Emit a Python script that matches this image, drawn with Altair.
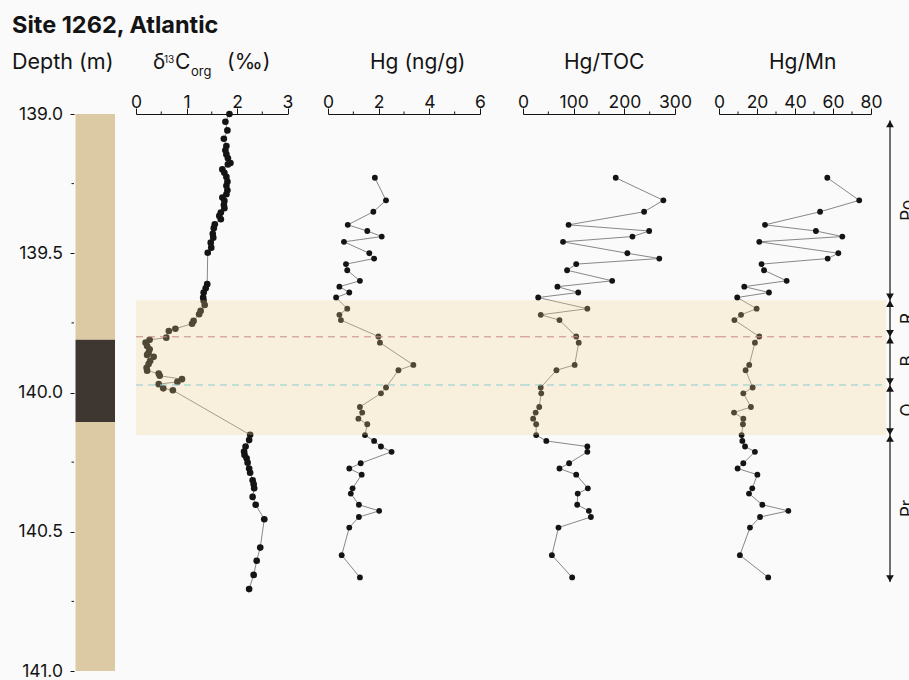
import altair as alt
import pandas as pd

FONT = "Inter"
INK = "#141414"
LINE = "#6a6a6a"
BAND = "#f5d68c"

# ---------------- data ----------------
DEPTH_DOMAIN = [139.0, 141.0]
PLOT_H = 557

# bulk organic carbon isotopes (‰)
d13c_depth = [139.000, 139.028, 139.059, 139.089, 139.115, 139.130, 139.145, 139.159, 139.176, 139.181,
              139.199, 139.211, 139.226, 139.243, 139.258, 139.274, 139.288, 139.300, 139.312, 139.327,
              139.338, 139.354, 139.366, 139.378, 139.396, 139.410, 139.430, 139.444, 139.462, 139.480,
              139.498, 139.611, 139.626, 139.641, 139.659, 139.671, 139.686, 139.707, 139.719, 139.743,
              139.753, 139.771, 139.779, 139.803, 139.811, 139.821, 139.833, 139.845, 139.857, 139.865,
              139.872, 139.887, 139.898, 139.911, 139.922, 139.932, 139.940, 139.952, 139.962, 139.970,
              139.985, 139.992, 140.152, 140.171, 140.194, 140.212, 140.224, 140.236, 140.252, 140.273,
              140.288, 140.315, 140.329, 140.344, 140.375, 140.403, 140.455, 140.557, 140.604, 140.655,
              140.706]
d13c_value = [1.85, 1.77, 1.81, 1.74, 1.79, 1.77, 1.79, 1.82, 1.87, 1.82,
              1.71, 1.75, 1.79, 1.81, 1.79, 1.81, 1.79, 1.71, 1.75, 1.74,
              1.75, 1.68, 1.65, 1.68, 1.56, 1.54, 1.52, 1.53, 1.48, 1.49,
              1.42, 1.41, 1.38, 1.34, 1.33, 1.34, 1.36, 1.28, 1.25, 1.14,
              1.11, 0.78, 0.65, 0.60, 0.27, 0.19, 0.22, 0.27, 0.25, 0.22,
              0.35, 0.28, 0.25, 0.21, 0.22, 0.45, 0.47, 0.91, 0.82, 0.45,
              0.54, 0.73, 2.26, 2.24, 2.17, 2.14, 2.15, 2.19, 2.21, 2.24,
              2.26, 2.31, 2.33, 2.34, 2.31, 2.37, 2.54, 2.46, 2.39, 2.33,
              2.24]

# mercury samples (shared depths)
hg_depth = [139.229, 139.310, 139.351, 139.398, 139.420, 139.440, 139.459, 139.500, 139.519, 139.539,
            139.561, 139.599, 139.620, 139.641, 139.659, 139.699, 139.721, 139.740, 139.799, 139.821,
            139.901, 139.920, 139.982, 140.003, 140.052, 140.072, 140.094, 140.114, 140.153, 140.174,
            140.194, 140.213, 140.254, 140.273, 140.295, 140.344, 140.363, 140.403, 140.425, 140.447,
            140.485, 140.584, 140.664]
hg_value = [1.85, 2.29, 1.79, 0.78, 1.55, 2.12, 0.63, 1.63, 1.82, 0.71,
            0.76, 1.26, 0.45, 0.84, 0.32, 0.76, 0.45, 0.51, 1.99, 2.05,
            3.37, 2.78, 2.29, 2.09, 1.26, 1.35, 1.20, 1.55, 1.46, 1.82,
            2.09, 2.51, 1.29, 0.84, 1.33, 0.97, 0.90, 1.22, 2.02, 1.22,
            0.84, 0.54, 1.26]
hg_toc = [183, 277, 239, 90, 249, 216, 79, 206, 269, 105,
          87, 176, 68, 109, 30, 127, 35, 72, 105, 110,
          102, 66, 35, 36, 32, 25, 20, 26, 26, 46,
          127, 127, 91, 72, 105, 128, 108, 107, 130, 134,
          70, 57, 97]
hg_mn = [57.0, 73.8, 53.2, 24.2, 51.0, 64.9, 21.2, 62.8, 57.2, 22.4,
         23.7, 35.6, 13.3, 26.3, 9.6, 19.8, 11.6, 8.1, 21.2, 18.9,
         15.9, 14.0, 17.7, 12.8, 16.8, 7.9, 12.8, 12.6, 11.9, 12.3,
         13.7, 18.9, 12.8, 9.8, 20.2, 17.5, 15.8, 22.8, 36.5, 21.6,
         16.3, 11.0, 25.9]

# core lithology column
lith_top = [139.0, 139.811, 140.106]
lith_base = [139.811, 140.106, 141.0]
lith_color = ["#dccaa4", "#3e3631", "#dccaa4"]

# highlighted interval and marker horizons
band_top, band_base = 139.669, 140.153
marker_depth = [139.800, 139.973]
marker_color = ["#c98a82", "#8ccdd6"]

# phase arrows on the right
phase_bounds = [139.023, 139.669, 139.800, 139.973, 140.153, 140.680]
phase_labels = ["Po", "R", "B", "O", "Pr"]

# ---------------- helpers ----------------
depth_scale = alt.Scale(domain=DEPTH_DOMAIN, reverse=True, nice=False, zero=False)


def ydepth(field="depth", axis=None):
    return alt.Y(f"{field}:Q", scale=depth_scale, axis=axis)


def text(label, x, y, size, weight="normal", align="left", baseline="alphabetic",
         angle=0, clip=False):
    return alt.Chart(pd.DataFrame({"label": [label]})).mark_text(
        font=FONT, fontSize=size, fontWeight=weight, align=align, baseline=baseline,
        angle=angle, clip=clip, color=INK,
    ).encode(text="label:N", x=alt.value(x), y=alt.value(y))


def horizon_layers(width):
    band = alt.Chart(pd.DataFrame({"top": [band_top], "base": [band_base]})).mark_rect(
        color=BAND, opacity=0.27
    ).encode(x=alt.value(0), x2=alt.value(width), y=ydepth("top"), y2="base:Q")
    dashes = alt.Chart(pd.DataFrame({"depth": marker_depth, "c": marker_color})).mark_rule(
        strokeDash=[7, 5], strokeWidth=1
    ).encode(y=ydepth(), x=alt.value(0), x2=alt.value(width),
             color=alt.Color("c:N", scale=None))
    return [band, dashes]


def profile(depths, values, domain, majors, minors, rng, width, point_size, headers,
            extra=(), band_width=None):
    axis = alt.Axis(orient="top", values=majors, format="d", title=None, grid=False,
                    tickSize=6, tickWidth=1, tickColor=INK, domainColor=INK, domainWidth=1,
                    labelFontSize=17.5, labelFont=FONT, labelColor=INK,
                    labelBaseline="alphabetic", labelPadding=0.5,
                    labelFlush=False, labelOverlap=False)
    xenc = alt.X("v:Q", scale=alt.Scale(domain=domain, range=[0, rng], nice=False, zero=False),
                 axis=axis)
    df = pd.DataFrame({"depth": depths, "v": values})
    line = alt.Chart(df).mark_line(color=LINE, strokeWidth=0.8).encode(
        x=xenc, y=ydepth(), order="depth:Q")
    pts = alt.Chart(df).mark_circle(size=point_size, color=INK, opacity=1).encode(
        x=xenc, y=ydepth())
    minor = alt.Chart(pd.DataFrame({"v": minors})).mark_rule(color=INK, strokeWidth=1).encode(
        x=xenc, y=alt.value(-2.5), y2=alt.value(0))
    layers = [line, pts] + horizon_layers(band_width or width) + [minor] + list(headers) + list(extra)
    return alt.layer(*layers).properties(width=width, height=PLOT_H)


# ---------------- core column with depth axis ----------------
core_axis = alt.Axis(orient="left", values=[139.0, 139.5, 140.0, 140.5, 141.0], format=".1f",
                     title=None, grid=False, domain=False, tickSize=4, tickColor=INK,
                     labelFontSize=17.5, labelFont=FONT, labelColor=INK, labelPadding=7.5,
                     labelFlush=False, labelOverlap=False)
lith = alt.Chart(pd.DataFrame({"top": lith_top, "base": lith_base, "c": lith_color,
                               "x0": [0, 0, 0], "x1": [1, 1, 1]})).mark_rect().encode(
    x=alt.X("x0:Q", scale=alt.Scale(domain=[0, 1], range=[1.5, 41]), axis=None),
    x2="x1:Q",
    y=ydepth("top", core_axis), y2="base:Q",
    color=alt.Color("c:N", scale=None),
)
core_minor = alt.Chart(pd.DataFrame({"depth": [139.25, 139.75, 140.25, 140.75]})).mark_rule(
    color=INK, strokeWidth=1
).encode(y=ydepth("depth", core_axis), x=alt.value(-2.5), x2=alt.value(0))
core = alt.layer(
    lith, core_minor,
    text("Site 1262, Atlantic", -62, -81, 23.5, weight="bold"),
    text("Depth (m)", -62, -45, 21.5),
).properties(width=62, height=PLOT_H)

# ---------------- δ13C panel ----------------
d13c = profile(
    d13c_depth, d13c_value, [0, 3], [0, 1, 2, 3], [0.5, 1.5, 2.5], 151.5, 192, 44,
    headers=[
        text("δ", 17, -45, 21),
        text("13", 28, -51, 10),
        text("C", 39, -45, 21),
        text("org", 55, -38, 13),
        text("(‰)", 91, -45, 21),
    ],
)

# ---------------- Hg panel ----------------
hg = profile(
    hg_depth, hg_value, [0, 6], [0, 2, 4, 6], [1, 3, 5], 152, 195, 34,
    headers=[text("Hg (ng/g)", 42, -45, 21)],
)

# ---------------- Hg/TOC panel ----------------
toc = profile(
    hg_depth, hg_toc, [0, 300], [0, 100, 200, 300], [50, 150, 250], 152, 196, 34,
    headers=[text("Hg/TOC", 41, -45, 21)],
)

# ---------------- Hg/Mn panel with phase arrows ----------------
span = alt.Chart(pd.DataFrame({"top": [phase_bounds[0]], "base": [phase_bounds[-1]]})).mark_rule(
    color=INK, strokeWidth=1.2
).encode(x=alt.value(171), y=ydepth("top"), y2="base:Q")
heads_up = alt.Chart(pd.DataFrame({"depth": phase_bounds[:-1]})).mark_point(
    shape="triangle-up", filled=True, size=60, color=INK, opacity=1, yOffset=3.4
).encode(x=alt.value(171), y=ydepth())
heads_down = alt.Chart(pd.DataFrame({"depth": phase_bounds[1:]})).mark_point(
    shape="triangle-down", filled=True, size=60, color=INK, opacity=1, yOffset=-3.4
).encode(x=alt.value(171), y=ydepth())
mids = [(a + b) / 2 for a, b in zip(phase_bounds[:-1], phase_bounds[1:])]
phase_text = alt.Chart(pd.DataFrame({"depth": mids, "label": phase_labels})).mark_text(
    font=FONT, fontSize=17, angle=270, align="center", baseline="top", clip=True, color=INK
).encode(x=alt.value(181), y=ydepth(), text="label:N")

mn = profile(
    hg_depth, hg_mn, [0, 80], [0, 20, 40, 60, 80], [10, 30, 50, 70], 152, 190, 34,
    headers=[text("Hg/Mn", 50, -45, 21)],
    extra=[span, heads_up, heads_down, phase_text],
    band_width=167,
)

chart = alt.hconcat(
    core, d13c, hg, toc, mn,
    spacing=0, bounds="flush",
    padding={"left": 12, "top": 14, "right": 0, "bottom": 2},
    background="#fafafa",
).configure_view(strokeWidth=0)

chart.save("out.html", embed_options={"renderer": "svg", "actions": False})
